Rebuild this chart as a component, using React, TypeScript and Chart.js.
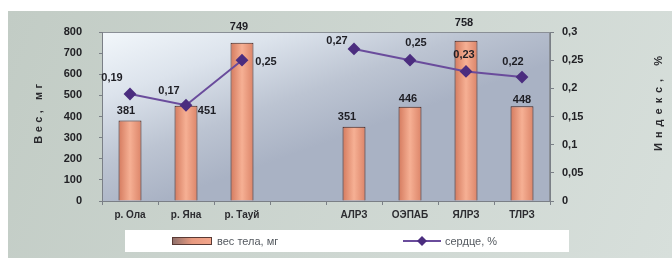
import React, { useEffect, useRef } from 'react';
import { Chart, registerables } from 'chart.js';

Chart.register(...registerables);

const categories = ['р. Ола', 'р. Яна', 'р. Тауй', '', 'АЛРЗ', 'ОЭПАБ', 'ЯЛРЗ', 'ТЛРЗ'];
const bodyWeight: (number | null)[] = [381, 451, 749, null, 351, 446, 758, 448];
const heartIndex: (number | null)[] = [0.19, 0.17, 0.25, null, 0.27, 0.25, 0.23, 0.22];
const weightAxis = { min: 0, max: 800, step: 100 };
const indexAxis = { min: 0, max: 0.3, step: 0.05 };
const weightLabel = 'вес тела, мг';
const heartLabel = 'сердце, %';
const leftTitle = 'Вес, мг';
const rightTitle = 'Индекс, %';

const fmt = (v: number) => String(Math.round(v * 100) / 100).replace('.', ',');

const FONT = '"Liberation Sans", Arial, sans-serif';

// label placement styles (offsets from mark anchor)
const barLabelOffsets: [number, number][] = [
  [-4, -10], [21, 5], [-3, -16], [0, 0], [-7, -10], [-2, -8], [-2, -18], [0, -6],
];
const lineLabelOffsets: [number, number][] = [
  [-18, -16], [-17, -14], [24, 2], [0, 0], [-17, -8], [6, -17], [-2, -16], [-9, -15],
];

const barFill = (c: any) => {
  const chart = c.chart;
  const xs = chart.scales && chart.scales.x;
  if (!xs || c.dataIndex == null) return '#f1a287';
  const x = xs.getPixelForValue(c.dataIndex);
  if (!Number.isFinite(x)) return '#f1a287';
  const w = 23;
  const g = chart.ctx.createLinearGradient(x - w / 2, 0, x + w / 2, 0);
  g.addColorStop(0, '#d47a5e');
  g.addColorStop(0.5, '#f6b094');
  g.addColorStop(1, '#dc8468');
  return g;
};

const decorPlugin = {
  id: 'decor',
  beforeDraw(chart: any) {
    const { ctx, width, height, chartArea: a } = chart;
    ctx.save();
    ctx.fillStyle = '#ffffff';
    ctx.fillRect(0, 0, width, height);
    const g = ctx.createLinearGradient(8, 11, width, height);
    g.addColorStop(0, '#c2ccc5');
    g.addColorStop(1, '#d7dfdb');
    ctx.fillStyle = g;
    ctx.fillRect(8, 11, width - 8, height - 11);
    const pg = ctx.createLinearGradient(a.left, a.top, a.left + 60, a.bottom);
    pg.addColorStop(0, '#f2f7fb');
    pg.addColorStop(0.35, '#dce3ec');
    pg.addColorStop(0.7, '#bcc4d2');
    pg.addColorStop(1, '#a9b2c4');
    ctx.fillStyle = pg;
    ctx.fillRect(a.left, a.top, a.right - a.left, a.bottom - a.top);
    ctx.strokeStyle = '#8a8f96';
    ctx.lineWidth = 1;
    ctx.strokeRect(a.left + 0.5, a.top + 0.5, a.right - a.left - 1, a.bottom - a.top);
    ctx.restore();
  },
  afterDatasetsDraw(chart: any) {
    const { ctx, width } = chart;
    ctx.save();
    ctx.font = `bold 11px ${FONT}`;
    ctx.fillStyle = '#1e1e24';
    ctx.textAlign = 'center';
    ctx.textBaseline = 'middle';
    const bars = chart.getDatasetMeta(0).data;
    bodyWeight.forEach((v, i) => {
      if (v == null) return;
      const el = bars[i];
      const [dx, dy] = barLabelOffsets[i];
      ctx.fillText(String(v), el.x + dx, el.y + dy);
    });
    const pts = chart.getDatasetMeta(1).data;
    heartIndex.forEach((v, i) => {
      if (v == null) return;
      const el = pts[i];
      const [dx, dy] = lineLabelOffsets[i];
      ctx.fillText(fmt(v), el.x + dx, el.y + dy);
    });

    // axis titles
    ctx.fillStyle = '#2a2a2e';
    ctx.font = `bold 11px ${FONT}`;
    (ctx as any).letterSpacing = '3.5px';
    ctx.save();
    ctx.translate(39, 112);
    ctx.rotate(-Math.PI / 2);
    ctx.fillText(leftTitle, 0, 0);
    ctx.restore();
    (ctx as any).letterSpacing = '5px';
    ctx.save();
    ctx.translate(width - 13, 101);
    ctx.rotate(-Math.PI / 2);
    ctx.fillText(rightTitle, 0, 0);
    ctx.restore();
    (ctx as any).letterSpacing = '0px';

    // legend
    const lx = 125, ly = 230, lw = 444, lh = 22;
    ctx.fillStyle = '#ffffff';
    ctx.fillRect(lx, ly, lw, lh);
    const cy = ly + lh / 2;
    const sg = ctx.createLinearGradient(172, 0, 212, 0);
    sg.addColorStop(0, '#8c6e6a');
    sg.addColorStop(0.5, '#e89a80');
    sg.addColorStop(1, '#f3a68c');
    ctx.fillStyle = sg;
    ctx.fillRect(172, cy - 4, 40, 8);
    ctx.strokeStyle = '#5a3a34';
    ctx.lineWidth = 1;
    ctx.strokeRect(172.5, cy - 3.5, 39, 7);
    ctx.font = `11px ${FONT}`;
    ctx.fillStyle = '#555a60';
    ctx.textAlign = 'left';
    ctx.fillText(weightLabel, 217, cy + 1);
    ctx.strokeStyle = '#6a4c9c';
    ctx.lineWidth = 2;
    ctx.beginPath();
    ctx.moveTo(403, cy);
    ctx.lineTo(441, cy);
    ctx.stroke();
    ctx.fillStyle = '#4b2d7f';
    ctx.beginPath();
    ctx.moveTo(422, cy - 5);
    ctx.lineTo(427, cy);
    ctx.lineTo(422, cy + 5);
    ctx.lineTo(417, cy);
    ctx.closePath();
    ctx.fill();
    ctx.fillStyle = '#555a60';
    ctx.fillText(heartLabel, 445, cy + 1);
    ctx.restore();
  },
};

export default function App() {
  const ref = useRef<HTMLCanvasElement | null>(null);
  useEffect(() => {
    if (!ref.current) return;
    const chart = new Chart(ref.current, {
      type: 'bar',
      data: {
        labels: categories,
        datasets: [
          {
            type: 'bar',
            label: weightLabel,
            data: bodyWeight,
            yAxisID: 'y',
            backgroundColor: barFill,
            borderColor: '#3e201c',
            borderWidth: 1,
            barPercentage: 0.41,
            categoryPercentage: 1,
            order: 2,
          } as any,
          {
            type: 'line',
            label: heartLabel,
            data: heartIndex,
            yAxisID: 'y1',
            borderColor: '#6a4c9c',
            borderWidth: 2,
            pointStyle: 'rectRot',
            pointRadius: 5,
            pointBackgroundColor: '#4b2d7f',
            pointBorderColor: '#4b2d7f',
            spanGaps: false,
            tension: 0,
            order: 1,
          } as any,
        ],
      },
      options: {
        animation: false,
        responsive: false,
        layout: { padding: { top: 32, left: 0, right: 0, bottom: 0 } },
        plugins: { legend: { display: false }, tooltip: { enabled: false } },
        scales: {
          x: {
            offset: true,
            grid: { offset: true, drawOnChartArea: false, tickLength: 4, color: '#7a7f86' },
            border: { color: '#7a7f86' },
            ticks: { color: '#2c2c30', font: { family: FONT, size: 10, weight: 'bold' }, padding: 4, maxRotation: 0, autoSkip: false },
            afterFit: (s: any) => { s.height = 57; },
          },
          y: {
            position: 'left',
            min: weightAxis.min,
            max: weightAxis.max,
            grid: { drawOnChartArea: false, tickLength: 3, color: '#7a7f86' },
            border: { color: '#7a7f86' },
            ticks: { stepSize: weightAxis.step, color: '#222226', font: { family: FONT, size: 11, weight: 'bold' }, padding: 17 },
            afterFit: (s: any) => { s.width = 102; },
          },
          y1: {
            position: 'right',
            min: indexAxis.min,
            max: indexAxis.max,
            grid: { drawOnChartArea: false, tickLength: 4, color: '#7a7f86' },
            border: { color: '#7a7f86' },
            ticks: { stepSize: indexAxis.step, color: '#222226', font: { family: FONT, size: 11, weight: 'bold' }, padding: 8, callback: (v: any) => fmt(Number(v)) },
            afterFit: (s: any) => { s.width = 122; },
          },
        },
      },
      plugins: [decorPlugin],
    });
    return () => chart.destroy();
  }, []);
  return (
    <div style={{ position: 'fixed', left: 0, top: 0, width: 672, height: 258 }}>
      <canvas ref={ref} width={672} height={258} style={{ display: 'block' }} />
    </div>
  );
}
